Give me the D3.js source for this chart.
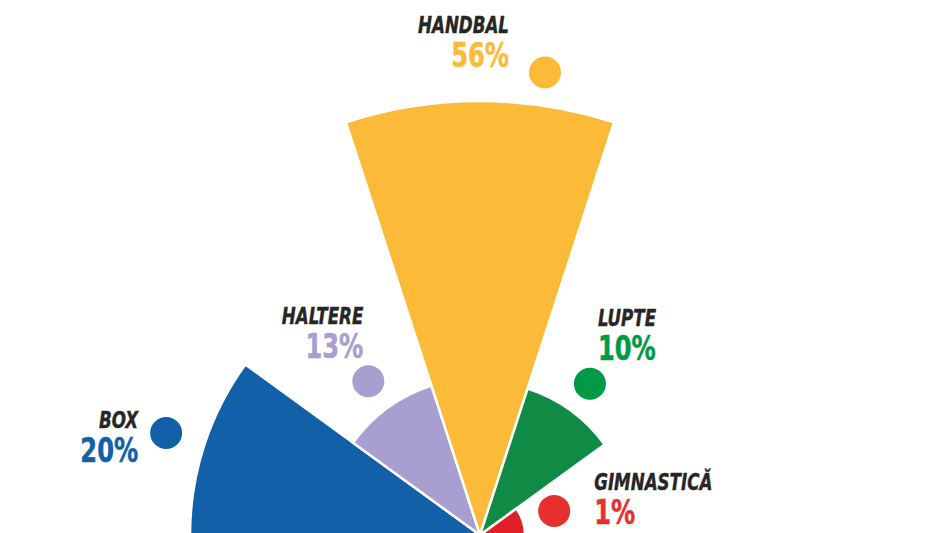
<!DOCTYPE html>
<html>
<head>
<meta charset="utf-8">
<script src="https://cdn.jsdelivr.net/npm/d3@7"></script>
<style>
  html, body { margin: 0; padding: 0; background: #fff; overflow: hidden; }
  .label text { font-family: "Liberation Sans Narrow", "DejaVu Sans Condensed", sans-serif; font-weight: bold; }
  .name { font-style: italic; fill: #262626; stroke: #262626; stroke-width: 0.4px; }
  .pct { stroke-width: 0.5px; }
</style>
</head>
<body>
<div id="chart"></div>
<script>
// Sports and their share (%)
const categories = ["BOX", "HALTERE", "HANDBAL", "LUPTE", "GIMNASTICĂ"];
const shares = [20, 13, 56, 10, 1];
const wedgeColors = ["#1160a8", "#a89ecf", "#fbba38", "#0f8b45", "#e21f26"];
const dotColors = ["#1160a8", "#a89ecf", "#fbba38", "#009a47", "#e63030"];

// Label placement relative to each dot (layout only)
const labelLayout = [
    { anchor: "end",   dx: -28, nameDy: -5,  pctDy: 29 },
    { anchor: "end",   dx: -5,  nameDy: -57, pctDy: -23 },
    { anchor: "end",   dx: -36, nameDy: -40, pctDy: -6 },
    { anchor: "start", dx: 8,   nameDy: -58, pctDy: -24 },
    { anchor: "start", dx: 40,  nameDy: -21, pctDy: 13 }
];

function createRoseChart(containerId) {
    const width = 939;
    const height = 533;
    const cx = 480, cy = 535;

    const svg = d3.select("#" + containerId)
        .append("svg")
        .attr("width", width)
        .attr("height", height);

    const g = svg.append("g")
        .attr("transform", `translate(${cx},${cy})`);

    // One equal angular band per sport across the upper half circle
    const angle = d3.scaleBand()
        .domain(categories)
        .range([-Math.PI / 2, Math.PI / 2]);

    // Radius scale as drawn in the original (not strictly proportional)
    const radius = d3.scaleLinear()
        .domain([0, 1, 10, 13, 20, 56])
        .range([0, 45, 154, 157, 290, 434]);

    const data = categories.map((c, i) => ({ name: c, value: shares[i], i: i }));

    const arc = d3.arc()
        .innerRadius(0)
        .outerRadius(d => radius(d.value))
        .startAngle(d => angle(d.name))
        .endAngle(d => angle(d.name) + angle.bandwidth());

    g.selectAll(".wedge")
        .data(data)
        .enter()
        .append("path")
        .attr("class", "wedge")
        .attr("d", arc)
        .attr("fill", d => wedgeColors[d.i])
        .attr("stroke", "#fff")
        .attr("stroke-width", 2.5)
        .attr("stroke-linejoin", "miter");

    // Dots sit just outside each wedge, on its middle angle (handbal nudged aside)
    function dotPos(d) {
        let a = angle(d.name) + angle.bandwidth() / 2;
        if (d.name === "HANDBAL") a = 8 * Math.PI / 180;
        const rr = radius(d.value) + (d.name === "BOX" ? 40 : 33);
        return [rr * Math.sin(a), -rr * Math.cos(a)];
    }

    const labels = g.selectAll(".label")
        .data(data)
        .enter()
        .append("g")
        .attr("class", "label")
        .attr("transform", d => `translate(${dotPos(d)})`);

    labels.append("circle")
        .attr("r", 16)
        .attr("fill", d => dotColors[d.i]);

    // name + percentage in one text block, squeezed for the condensed look
    const txt = labels.append("text")
        .attr("transform", d => `translate(${labelLayout[d.i].dx},0) scale(0.79,1)`)
        .attr("text-anchor", d => labelLayout[d.i].anchor);

    txt.append("tspan")
        .attr("class", "name")
        .attr("x", 0)
        .attr("y", d => labelLayout[d.i].nameDy)
        .style("font-size", "23.5px")
        .text(d => d.name);

    txt.append("tspan")
        .attr("class", "pct")
        .attr("x", 0)
        .attr("y", d => labelLayout[d.i].pctDy)
        .attr("fill", d => dotColors[d.i])
        .attr("stroke", d => dotColors[d.i])
        .style("font-size", "34px")
        .text(d => d.value + "%");
}

createRoseChart("chart");
</script>
</body>
</html>
